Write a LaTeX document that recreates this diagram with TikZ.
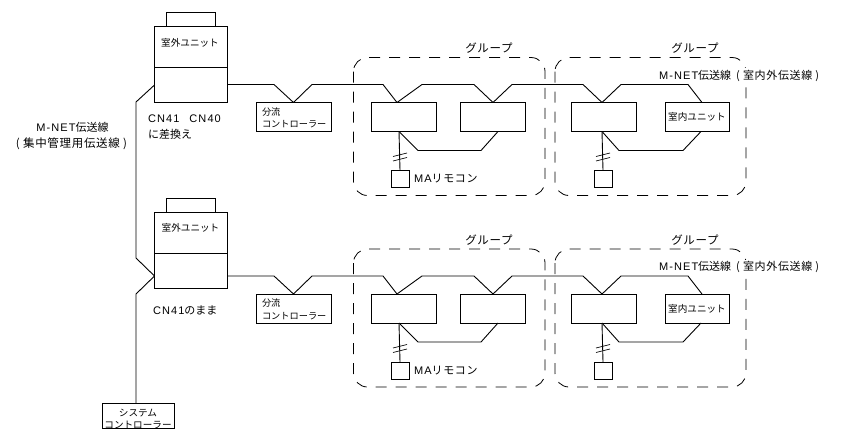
\documentclass[tikz,border=0pt]{standalone}
\usepackage{fontspec}
\setmainfont{Liberation Sans}
\newfontfamily\jp{Noto Sans CJK JP}
\newfontfamily\jpw[LetterSpace=6]{Noto Sans CJK JP}
\newfontfamily\lat[LetterSpace=10]{Liberation Sans}
\tikzset{
  wire/.style={line width=0.9pt,line join=round},
  thinwire/.style={line width=0.7pt},
  unitbox/.style={draw,line width=0.9pt,inner sep=0pt,outer sep=0pt,fill=white},
  grp/.style={draw,line width=0.8pt,dash pattern=on 11pt off 9pt,rounded corners=14pt},
  lbl/.style={inner sep=0pt,outer sep=0pt,anchor=west,align=left},
  ctext/.style={inner sep=0pt,outer sep=0pt,anchor=center,align=center},
  smalltext/.style={font=\fontsize{9.6}{12.5}\selectfont\jp},
}
% name, x1, y1, x2, y2
\newcommand\ubox[5]{\node[unitbox,minimum width={(#4-#2)*1pt},minimum height={(#5-#3)*1pt}] (#1) at ({(#2+#4)/2},{(#3+#5)/2}) {};}
% one branch line: suffix
\newcommand\rowparts[1]{
  \ubox{ctrl#1}{256}{294}{331}{323}
  \ubox{ina#1}{371}{294}{436}{323}
  \ubox{inb#1}{460}{294}{525}{323}
  \ubox{inc#1}{571}{294}{636}{323}
  \ubox{ind#1}{665}{294}{729}{323}
  \ubox{rema#1}{391}{362}{409}{379}
  \ubox{remc#1}{594}{362}{612}{379}
  \draw[grp] (353.5,249) rectangle (545,387);
  \draw[grp] (555,249) rectangle (746,387);
  \coordinate (pa#1) at (397,294);
  \coordinate (pb#1) at (493,294);
  \coordinate (pc#1) at (602,294);
  \coordinate (pd#1) at (702,294);
  \coordinate (qa#1) at (399,323);
  \coordinate (qb#1) at (498,323);
  \coordinate (qc#1) at (602,323);
  \coordinate (qd#1) at (701,323);
  \draw[wire] (pu#1) -- (274,276) -- (ctrl#1.north) -- (312,276) -- (383,276) -- (pa#1)
     -- (422,276) -- (474,276) -- (pb#1) -- (512,276) -- (583,276) -- (pc#1)
     -- (621,276) -- (688,276) -- (pd#1);
  \draw[wire] (qa#1) -- (418,342) -- (481,342) -- (qb#1);
  \draw[wire] (qc#1) -- (619,342) -- (683,342) -- (qd#1);
  \draw[wire] (qa#1) -- (rema#1.north);
  \draw[wire] (qc#1) -- (remc#1.north);
  \draw[thinwire] (393,348) -- (407,344.5) (393,352.5) -- (407,349);
  \draw[thinwire] (596,348) -- (610,344.5) (596,352.5) -- (610,349);
  \node[lbl,font=\fontsize{11}{13}\selectfont\lat] (ma#1) at (414,370.5) {MA{\jpw リモコン}};
  \node[ctext,font=\fontsize{11.5}{13}\selectfont\jpw] (ga#1) at (489,240) {グループ};
  \node[ctext,font=\fontsize{11.5}{13}\selectfont\jpw] (gb#1) at (695,240) {グループ};
  \node[lbl,fill=white,minimum height=15pt,font=\fontsize{11}{13}\selectfont\lat] (tr#1) at (659,267)
    {M-NET{\jp 伝送線}\hspace{5pt}{\jpw ( 室内外伝送線 )}};
  \node[ctext,smalltext] (tin#1) at (697,308.5) {室内ユニット};
  \node[lbl,font=\fontsize{9.2}{12.6}\selectfont\jp] (tc#1) at (262,309.5) {分流\\コントローラー};
}
\begin{document}
\begin{tikzpicture}[x=1pt,y=-1pt]
\useasboundingbox (0,0) rectangle (843,429);
\clip (0,0) rectangle (843,429);
\fill[white] (0,0) rectangle (843,429);
% outdoor units
\ubox{topa}{166.5}{12}{215}{26.5}
\ubox{outa}{154.5}{26.5}{227}{102}
\draw[wire] (outa.west |- 0,67) -- (outa.east |- 0,67);
\ubox{topb}{166.5}{198}{215}{212}
\ubox{outb}{154.5}{212}{227}{288}
\draw[wire] (outb.west |- 0,253) -- (outb.east |- 0,253);
\coordinate (pl) at (outa.west |- 0,85);
\coordinate (pm) at (outb.west |- 0,276);
\coordinate (puB) at (outb.east |- 0,276);
\begin{scope}[yshift=191.5pt]
\coordinate (puA) at (227,276);
\rowparts{A}
\end{scope}
\rowparts{B}
% system controller
\ubox{sys}{102}{403.5}{174}{428.5}
\draw[wire] (pl) -- (136,102) -- (136,258) -- (pm) -- (136,294) -- (sys.north -| 136,0);
% labels
\node[ctext,smalltext] (t1) at (190,43) {室外ユニット};
\node[ctext,smalltext] (t2) at (190.5,228) {室外ユニット};
\node[ctext,font=\fontsize{11}{13}\selectfont\lat] (t3) at (72.5,127) {M-NET{\jp 伝送線}};
\node[ctext,font=\fontsize{11.5}{13}\selectfont\jpw] (t4) at (71.5,143.5) {( 集中管理用伝送線 )};
\node[lbl,font=\fontsize{11}{13}\selectfont\lat] (t5) at (148,118.5) {CN41\hspace{10pt}CN40};
\node[lbl,font=\fontsize{11}{13}\selectfont\jp] (t6) at (148,134.5) {に差換え};
\node[lbl,font=\fontsize{11}{13}\selectfont\lat] (t7) at (153,310) {CN41{\jp のまま}};
\node[ctext,font=\fontsize{9.6}{12.2}\selectfont\jp] (t8) at (138,419) {システム\\コントローラー};
\end{tikzpicture}
\end{document}
